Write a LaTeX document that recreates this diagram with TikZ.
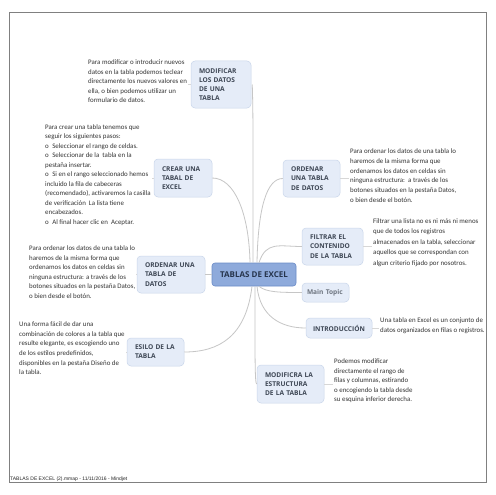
\documentclass[tikz,border=0pt]{standalone}
\usepackage{fontspec}
\setmainfont{Carlito}
\newfontfamily\topicfont{Open Sans}
\newfontfamily\footfont{Liberation Sans}
\usetikzlibrary{calc}
\definecolor{tfill}{HTML}{E5ECF8}
\definecolor{tdraw}{HTML}{C9D6EA}
\definecolor{ttext}{HTML}{3D4654}
\definecolor{cfill}{HTML}{8EAADB}
\definecolor{cdraw}{HTML}{6A8BC7}
\definecolor{ctext}{HTML}{26344C}
\definecolor{notec}{HTML}{333333}
\definecolor{linec}{HTML}{C6C6C6}
\definecolor{framec}{HTML}{808080}
\tikzset{
  topic/.style={draw=tdraw, fill=tfill, line width=0.5pt, rounded corners=4pt,
    text=ttext, align=left, inner xsep=8pt, inner ysep=2pt,
    font=\topicfont\bfseries\fontsize{6.6}{9.2}\selectfont},
  central/.style={draw=cdraw, fill=cfill, line width=0.6pt, rounded corners=3pt,
    text=ctext, align=center, inner sep=2pt,
    font=\topicfont\bfseries\fontsize{8}{10}\selectfont},
  note/.style={anchor=north west, inner sep=0pt, align=left, text=notec},
  branch/.style={draw=linec, line width=0.8pt},
  notelink/.style={draw=linec!70, line width=0.6pt}
}
\begin{document}
\begin{tikzpicture}[x=1pt,y=-1pt]
\useasboundingbox (0,0) rectangle (495,495);
\fill[white] (0,0) rectangle (495,495);
\draw[framec, line width=0.8pt] (9,12) rectangle (486,482);

% central
\node[central, minimum width=84pt, minimum height=23pt] (c) at (254,274.5) {TABLAS DE EXCEL};

% topics
\node[topic, text width=44pt, minimum height=47pt] (mod) at (221,84.5) {MODIFICAR\\LOS DATOS\\DE UNA\\TABLA};
\node[topic, text width=42pt, minimum height=38pt] (crear) at (183,178) {CREAR UNA\\TABAL DE\\EXCEL};
\node[topic, text width=41pt, minimum height=37pt] (ordr) at (311.5,178.5) {ORDENAR\\UNA TABLA\\DE DATOS};
\node[topic, text width=45pt, minimum height=37pt] (filt) at (332.5,246.5) {FILTRAR EL\\CONTENIDO\\DE LA TABLA};
\node[topic, text width=37pt, inner xsep=5pt, minimum height=19pt, text=ttext!75] (mt) at (325.5,292.5) {Main Topic};
\node[topic, text width=52pt, minimum height=20pt, inner xsep=7pt] (intro) at (339,328) {INTRODUCCIÓN};
\node[topic, text width=51pt, minimum height=38pt] (mest) at (290.5,384) {MODIFICRA LA\\ESTRUCTURA\\DE LA TABLA};
\node[topic, text width=52pt, minimum height=37pt] (ordl) at (171,274.5) {ORDENAR UNA\\TABLA DE\\DATOS};
\node[topic, text width=41pt, minimum height=28pt] (esilo) at (155.5,352) {ESILO DE LA\\TABLA};

% notes
\node[note, font=\fontsize{6.9}{9.6}\selectfont] (nmod) at (88,59.5) {Para modificar o introducir nuevos\\datos en la tabla podemos teclear\\directamente los nuevos valores en\\ella, o bien podemos utilizar un\\formulario de datos.};
\node[note, font=\fontsize{6.9}{9.5}\selectfont] (ncrear) at (45,124.5) {Para crear una tabla tenemos que\\seguir los siguientes pasos:\\o\enspace Seleccionar el rango de celdas.\\o\enspace Seleccionar de la\ \ tabla en la\\pestaña insertar.\\o\enspace Si en el rango seleccionado hemos\\incluido la fila de cabeceras\\(recomendado), activaremos la casilla\\de verificación\ \ La lista tiene\\encabezados.\\o\enspace Al final hacer clic en\ \ Aceptar.};
\node[note, font=\fontsize{6.9}{9.8}\selectfont] (nordr) at (350,148.5) {Para ordenar los datos de una tabla lo\\haremos de la misma forma que\\ordenamos los datos en celdas sin\\ninguna estructura:\ \ a través de los\\botones situados en la pestaña Datos,\\o bien desde el botón.};
\node[note, font=\fontsize{6.9}{10.4}\selectfont] (nfilt) at (373,218.5) {Filtrar una lista no es ni más ni menos\\que de todos los registros\\almacenados en la tabla, seleccionar\\aquellos que se correspondan con\\algun criterio fijado por nosotros.};
\node[note, font=\fontsize{6.9}{10}\selectfont] (nintro) at (380,317.5) {Una tabla en Excel es un conjunto de\\datos organizados en filas o registros.};
\node[note, font=\fontsize{6.9}{9.6}\selectfont] (nmest) at (334,358.5) {Podemos modificar\\directamente el rango de\\filas y columnas, estirando\\o encogiendo la tabla desde\\su esquina inferior derecha.};
\node[note, font=\fontsize{6.9}{9.6}\selectfont] (nordl) at (29,245.5) {Para ordenar los datos de una tabla lo\\haremos de la misma forma que\\ordenamos los datos en celdas sin\\ninguna estructura: a través de los\\botones situados en la pestaña Datos,\\o bien desde el botón.};
\node[note, font=\fontsize{6.9}{9.7}\selectfont] (nesilo) at (19,321.5) {Una forma fácil de dar una\\combinación de colores a la tabla que\\resulte elegante, es escogiendo uno\\de los estilos predefinidos,\\disponibles en la pestaña Diseño de\\la tabla.};

% note links
\draw[notelink] (mod.west) -- ($(nmod.east |- mod.west)+(1,0)$);
\draw[notelink] (crear.west) -- ($(ncrear.east |- crear.west)+(1,0)$);
\draw[notelink] (ordr.east) -- ($(nordr.west |- ordr.east)+(-1,0)$);
\draw[notelink] (filt.east) -- ($(nfilt.west |- filt.east)+(-1,0)$);
\draw[notelink] (intro.east) -- ($(nintro.west |- intro.east)+(-1,0)$);
\draw[notelink] (mest.east) -- ($(nmest.west |- mest.east)+(-1,0)$);
\draw[notelink] (ordl.west) -- ($(nordl.east |- ordl.west)+(1,0)$);
\draw[notelink] (esilo.west) -- ($(nesilo.east |- esilo.west)+(1,0)$);

% branches
\draw[branch] ($(c.north)+(-1,0)$) .. controls ($(c.north)+(-1,-120)$) and ($(mod.east)+(2,30)$) .. ($(mod.east)+(1,0)$);
\draw[branch] ($(c.north)+(-4,0)$) .. controls ($(c.north)+(-5,-50)$) and ($(crear.east)+(22,0)$) .. (crear.east);
\draw[branch] ($(c.north)+(3,0)$) .. controls ($(c.north)+(4,-55)$) and ($(ordr.west)+(-16,0)$) .. (ordr.west);
\draw[branch] ($(c.north)+(5,0)$) .. controls ($(c.north)+(12,-22)$) and ($(filt.west)+(-22,0)$) .. (filt.west);
\draw[branch] ($(c.south)+(5,0)$) .. controls ($(c.south)+(12,6)$) and ($(mt.west)+(-22,0)$) .. (mt.west);
\draw[branch] ($(c.south)+(3,0)$) .. controls ($(c.south)+(6,30)$) and ($(intro.west)+(-25,0)$) .. (intro.west);
\draw[branch] ($(c.south)+(1,0)$) .. controls ($(c.south)+(1,70)$) and ($(mest.west)+(-2,0)$) .. (mest.west);
\draw[branch] (c.west) -- (ordl.east);
\draw[branch] ($(c.south)+(-2,0)$) .. controls ($(c.south)+(-8,50)$) and ($(esilo.east)+(35,0)$) .. (esilo.east);

% footer
\node[anchor=base west, inner sep=0pt, font=\footfont\fontsize{5}{6}\selectfont, text=black!85] (foot) at (10,480.5) {TABLAS DE EXCEL (2).mmap - 11/11/2016 - Mindjet};
\end{tikzpicture}
\end{document}
